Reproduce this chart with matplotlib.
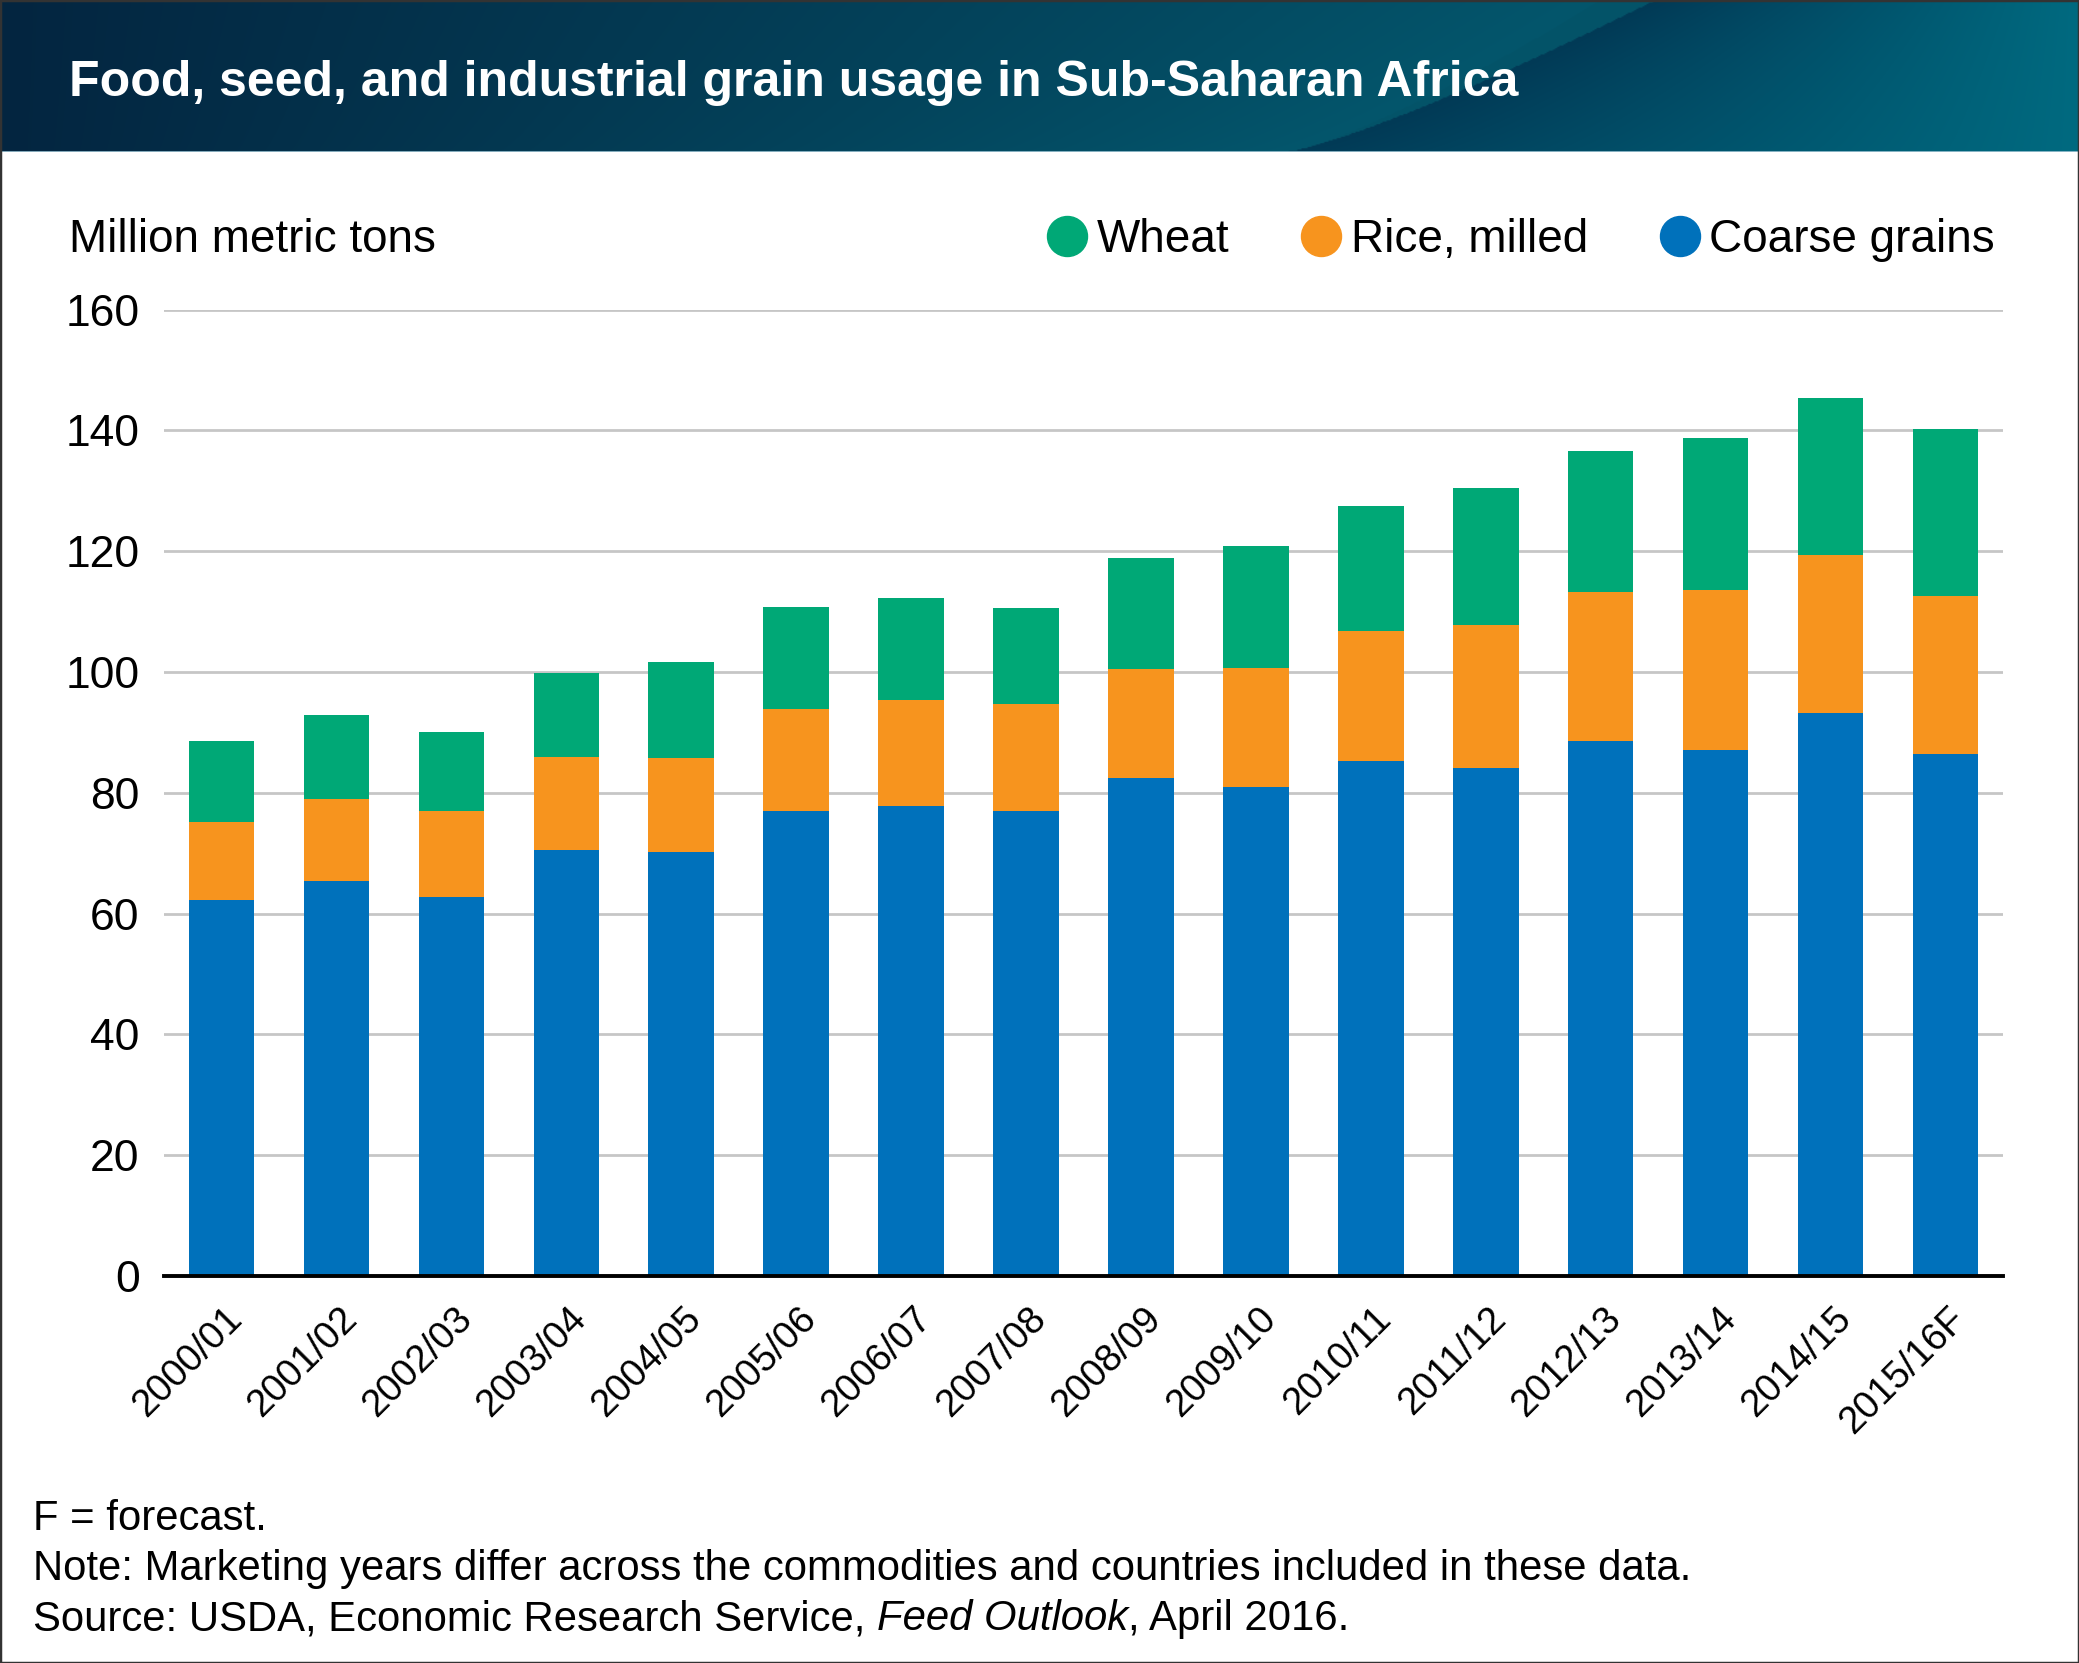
import numpy as np
import matplotlib
matplotlib.use("Agg")
import matplotlib.pyplot as plt
from matplotlib.lines import Line2D
from matplotlib.patches import Rectangle
from matplotlib.transforms import ScaledTranslation

plt.rcParams['font.family'] = ['Liberation Sans', 'DejaVu Sans']

W, H = 2079, 1663

years = ['2000/01', '2001/02', '2002/03', '2003/04', '2004/05', '2005/06',
         '2006/07', '2007/08', '2008/09', '2009/10', '2010/11', '2011/12',
         '2012/13', '2013/14', '2014/15', '2015/16F']
coarse = [62.3, 65.4, 62.8, 70.6, 70.2, 76.9, 77.8, 76.9, 82.5, 80.9, 85.2, 84.1, 88.6, 87.0, 93.2, 86.4]
rice = [12.8, 13.6, 14.2, 15.3, 15.6, 16.9, 17.5, 17.8, 18.0, 19.7, 21.5, 23.7, 24.7, 26.5, 26.1, 26.2]
wheat = [13.4, 13.8, 13.0, 14.0, 15.9, 17.0, 16.9, 15.9, 18.3, 20.3, 20.7, 22.6, 23.2, 25.3, 26.0, 27.6]
yticks = [0, 20, 40, 60, 80, 100, 120, 140, 160]

C_COARSE = '#0071bb'
C_RICE = '#f7941e'
C_WHEAT = '#00a876'

fig = plt.figure(figsize=(W / 100, H / 100), dpi=100)
fig.patch.set_facecolor('white')

# header band with gradient and a swoosh
hh = 152
hax = fig.add_axes([0, 1 - hh / H, 1, hh / H])
xs = np.linspace(0, W, 1000)
ys = np.linspace(0, hh, 120)
X, Y = np.meshgrid(xs, ys)
t = Y / hh
curve1 = 1290 + (1600 - 1290) * (1 - t) ** 0.8
curve2 = curve1 + 55 * (1 - t)
c0 = np.array([3, 37, 64]) / 255
c1 = np.array([4, 86, 108]) / 255
c2 = np.array([2, 58, 86]) / 255
c3 = np.array([0, 106, 128]) / 255
img = np.zeros(X.shape + (3,))
left = X < curve1
fl = np.clip(X / curve1, 0, 1)[..., None]
img_left = c0 + (c1 - c0) * fl
fr = np.clip((X - curve2) / (W - curve2), 0, 1)[..., None]
img_right = c2 + (c3 - c2) * fr
band = (X >= curve1) & (X < curve2)
img[:] = img_right
img[left] = img_left[left]
img[band] = c1 * 0.97
hax.imshow(img, extent=[0, W, hh, 0], aspect='auto', interpolation='bilinear')
hax.axhline(hh - 0.5, color='#9fc3d2', lw=1.2)
hax.set_xlim(0, W)
hax.set_ylim(hh, 0)
hax.axis('off')

fig.text(69 / W, 1 - 96 / H, 'Food, seed, and industrial grain usage in Sub-Saharan Africa',
         color='white', fontsize=36, fontweight='bold', va='baseline', ha='left')

# main axes
ax = fig.add_axes([164 / W, 1 - 1276 / H, (2003 - 164) / W, (1276 - 309.5) / H])
x = np.arange(len(years))
bw = 0.57
rice_base = np.array(coarse)
wheat_base = rice_base + np.array(rice)
ax.bar(x, coarse, bw, color=C_COARSE, zorder=3, label='Coarse grains')
ax.bar(x, rice, bw, bottom=rice_base, color=C_RICE, zorder=3, label='Rice, milled')
ax.bar(x, wheat, bw, bottom=wheat_base, color=C_WHEAT, zorder=3, label='Wheat')

ax.set_xlim(-0.5, len(years) - 0.5)
ax.set_ylim(0, 160)
ax.set_yticks(yticks)
ax.set_yticklabels([str(v) for v in yticks], fontsize=32)
ax.yaxis.grid(True, color='#c6c6c6', lw=2.0, zorder=0)
ax.set_axisbelow(True)
for s in ['top', 'right', 'left']:
    ax.spines[s].set_visible(False)
ax.spines['bottom'].set_linewidth(2.8)
ax.spines['bottom'].set_color('black')
ax.spines['bottom'].set_zorder(4)
ax.tick_params(axis='y', length=0, pad=17.5)
ax.tick_params(axis='x', length=0, pad=32)
ax.set_xticks(x)
ax.set_xticklabels(years, rotation=45, ha='right', va='baseline',
                   rotation_mode='anchor', fontsize=27.5)
off = ScaledTranslation(22 / 100, 0, fig.dpi_scale_trans)
for lab in ax.get_xticklabels():
    lab.set_transform(lab.get_transform() + off)

fig.text(69 / W, 1 - 252 / H, 'Million metric tons', fontsize=33, va='baseline', ha='left')

handles = [Line2D([], [], ls='none', marker='o', markersize=28.8, color=c)
           for c in (C_WHEAT, C_RICE, C_COARSE)]
fig.legend(handles, ['Wheat', 'Rice, milled', 'Coarse grains'], loc='center right',
           bbox_to_anchor=(1995 / W, 1 - 240 / H), ncol=3, frameon=False, fontsize=33,
           handlelength=1.0, handletextpad=0.15, columnspacing=1.5,
           borderpad=0, borderaxespad=0)

# footer notes
fs = 30.2
fig.text(33 / W, 1 - 1530 / H, 'F = forecast.', fontsize=fs, va='baseline')
fig.text(33 / W, 1 - 1580 / H,
         'Note: Marketing years differ across the commodities and countries included in these data.',
         fontsize=fs, va='baseline')
renderer = fig.canvas.get_renderer()
xpos = 33 / W
for txt, style in [('Source: USDA, Economic Research Service, ', 'normal'),
                   ('Feed Outlook', 'italic'), (', April 2016.', 'normal')]:
    tt = fig.text(xpos, 1 - 1630 / H, txt, fontsize=fs, va='baseline', style=style)
    bb = tt.get_window_extent(renderer)
    xpos = bb.x1 / W

fig.patches.append(Rectangle((0, 0), 1, 1, transform=fig.transFigure, fill=False,
                             edgecolor='#333333', lw=2.5, zorder=10))

fig.savefig('out.png', dpi=100)
